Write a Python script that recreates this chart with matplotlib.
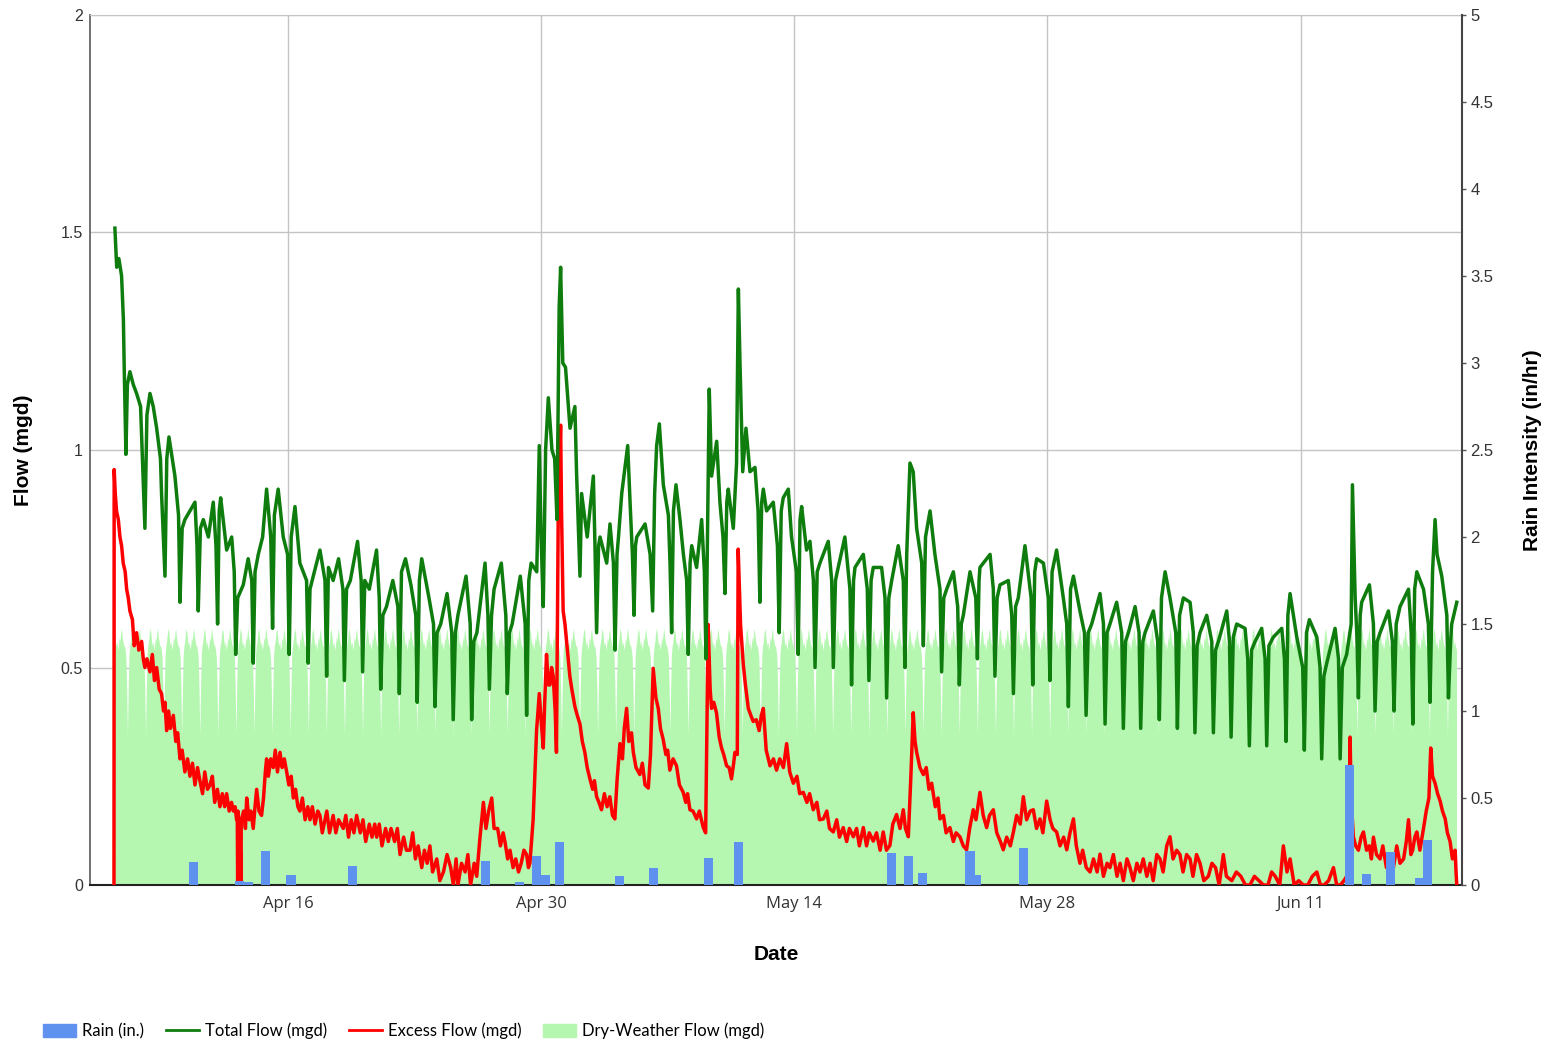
import numpy as np
import pandas as pd
import matplotlib
matplotlib.use("Agg")
import matplotlib.pyplot as plt
import matplotlib.dates as mdates
from matplotlib.patches import Patch
from matplotlib.lines import Line2D
from matplotlib.ticker import FixedLocator, FuncFormatter

#
# Data: time is given as days after Apr 5 00:00
#
start = pd.Timestamp("2014-04-05")

# Total flow (mgd), (day, value) pairs
total_day = [1.43, 1.53, 1.65, 1.80, 1.90, 1.95, 2.04,
             2.12, 2.26, 2.45, 2.63, 2.85, 2.91, 3.02, 3.09,
             3.20, 3.37, 3.55, 3.74, 3.95, 4.01, 4.20,
             4.30, 4.42, 4.75, 4.95, 5.03,
             5.15, 5.30, 5.58, 5.86, 5.97, 6.04,
             6.16, 6.32, 6.60, 6.87, 7.02, 7.11,
             7.20, 7.28, 7.61, 7.89, 8.03, 8.11,
             8.22, 8.53, 8.80, 9.00, 9.08,
             9.18, 9.36, 9.60, 9.82, 10.05, 10.15,
             10.25, 10.46, 10.74, 10.98, 11.07,
             11.18, 11.39, 11.66, 12.03, 12.12,
             12.22, 12.40, 12.77, 13.05, 13.14,
             13.24, 13.50, 13.80, 14.04, 14.12,
             14.24, 14.45, 14.85, 15.05, 15.13,
             15.25, 15.50, 15.90, 16.05, 16.13,
             16.25, 16.45, 16.80, 17.08, 17.16,
             17.28, 17.50, 17.80, 18.07, 18.15,
             18.27, 18.40, 18.80, 19.05, 19.13,
             19.25, 19.45, 19.80, 20.06, 20.14,
             20.26, 20.40, 20.85, 21.08, 21.16,
             21.28, 21.45, 21.90, 22.06, 22.14,
             22.26, 22.40, 22.80, 23.05, 23.13,
             23.25, 23.40, 23.85, 24.12, 24.20,
             24.32, 24.45, 24.76, 24.90, 25.00, 25.12,
             25.25, 25.40, 25.60, 25.75, 25.88, 26.00, 26.08,
             26.20, 26.35, 26.60, 26.87, 26.96, 27.15,
             27.24, 27.55, 27.89, 27.98, 28.07,
             28.18, 28.26, 28.63, 28.81, 29.00, 29.09,
             29.20, 29.28, 29.46, 29.79, 29.92, 30.05, 30.14,
             30.22, 30.29, 30.75, 31.03, 31.17,
             31.28, 31.39, 31.54, 31.76, 32.04, 32.13, 32.22,
             32.32, 32.46, 32.68, 32.87, 33.05, 33.14,
             33.24, 33.33, 33.60, 33.88, 34.03, 34.12,
             34.30, 34.43, 34.71, 34.89, 35.06, 35.17,
             35.27, 35.35, 35.63, 35.81, 35.91, 36.00, 36.15, 36.33, 36.55, 36.83, 37.00, 37.10,
             37.20, 37.29, 37.47, 37.84, 38.07, 38.17,
             38.28, 38.39, 38.67, 38.85, 39.12, 39.22,
             39.32, 39.41, 39.68, 39.87, 40.06, 40.15,
             40.27, 40.42, 40.88, 41.07, 41.16,
             41.28, 41.38, 41.80, 42.08, 42.17,
             42.28, 42.36, 42.82, 43.04, 43.13,
             43.25, 43.37, 43.83, 44.02, 44.11,
             44.23, 44.39, 44.75, 45.03, 45.12,
             45.22, 45.40, 45.58, 45.77, 46.05, 46.14,
             46.26, 46.51, 46.78, 47.06, 47.15,
             47.27, 47.43, 47.80, 48.04, 48.13,
             48.24, 48.35, 48.72, 49.04, 49.13,
             49.22, 49.27, 49.83, 50.01, 50.10,
             50.22, 50.38, 50.84, 51.03, 51.12,
             51.24, 51.39, 51.76, 52.10, 52.19,
             52.30, 52.41, 52.78, 53.05, 53.14,
             53.26, 53.51, 53.88, 54.07, 54.16,
             54.28, 54.44, 54.80, 55.05, 55.14,
             55.26, 55.45, 55.91, 56.10, 56.19,
             56.30, 56.46, 56.83, 57.11, 57.20,
             57.32, 57.48, 57.85, 58.07, 58.16,
             58.28, 58.40, 58.86, 59.10, 59.19,
             59.31, 59.51, 59.78, 60.10, 60.19,
             60.31, 60.52, 60.89, 61.07, 61.16,
             61.28, 61.44, 61.81, 62.09, 62.18,
             62.30, 62.46, 62.92, 63.07, 63.16,
             63.28, 63.47, 63.93, 64.08, 64.17,
             64.29, 64.49, 64.85, 65.04, 65.13,
             65.25, 65.50, 65.96, 66.11, 66.20,
             66.30, 66.42, 66.79, 67.12, 67.21,
             67.33, 67.49, 67.90, 68.08, 68.17,
             68.29, 68.45, 68.91, 69.10, 69.19,
             69.31, 69.55, 69.80, 69.87, 70.02, 70.11, 70.20,
             70.30, 70.38, 70.81, 71.03, 71.12,
             71.24, 71.40, 71.86, 72.08, 72.17,
             72.29, 72.50, 72.97, 73.12, 73.21,
             73.31, 73.43, 73.80, 74.07, 74.16,
             74.30, 74.44, 74.55, 74.81, 75.09, 75.18,
             75.30, 75.36, 75.64]
total_mgd = [1.51, 1.42, 1.44, 1.40, 1.30, 1.18, 0.99,
             1.15, 1.18, 1.15, 1.13, 1.10, 1.03, 0.90, 0.82,
             1.08, 1.13, 1.10, 1.05, 0.98, 0.90, 0.71,
             0.98, 1.03, 0.94, 0.85, 0.65,
             0.82, 0.84, 0.86, 0.88, 0.78, 0.63,
             0.82, 0.84, 0.80, 0.88, 0.78, 0.60,
             0.86, 0.89, 0.77, 0.80, 0.72, 0.53,
             0.66, 0.69, 0.75, 0.70, 0.51,
             0.72, 0.76, 0.80, 0.91, 0.80, 0.59,
             0.85, 0.91, 0.80, 0.76, 0.53,
             0.80, 0.87, 0.74, 0.70, 0.51,
             0.68, 0.71, 0.77, 0.70, 0.48,
             0.73, 0.70, 0.75, 0.68, 0.47,
             0.68, 0.70, 0.79, 0.70, 0.49,
             0.70, 0.68, 0.77, 0.66, 0.45,
             0.62, 0.64, 0.70, 0.64, 0.44,
             0.72, 0.75, 0.69, 0.62, 0.42,
             0.70, 0.75, 0.66, 0.60, 0.41,
             0.58, 0.60, 0.67, 0.58, 0.38,
             0.58, 0.62, 0.71, 0.60, 0.38,
             0.56, 0.58, 0.74, 0.62, 0.45,
             0.62, 0.68, 0.74, 0.62, 0.44,
             0.58, 0.60, 0.71, 0.60, 0.39,
             0.70, 0.74, 0.72, 1.01, 0.80, 0.64,
             1.00, 1.12, 1.00, 0.98, 0.84, 1.33, 1.42,
             1.20, 1.19, 1.05, 1.10, 0.95, 0.71,
             0.90, 0.80, 0.94, 0.78, 0.58,
             0.78, 0.80, 0.74, 0.83, 0.74, 0.54,
             0.76, 0.80, 0.90, 1.01, 0.88, 0.76, 0.62,
             0.78, 0.80, 0.83, 0.76, 0.63,
             0.90, 1.01, 1.06, 0.92, 0.85, 0.74, 0.58,
             0.86, 0.92, 0.84, 0.76, 0.70, 0.53,
             0.74, 0.78, 0.73, 0.84, 0.72, 0.52,
             1.14, 0.94, 1.02, 0.88, 0.80, 0.67,
             0.88, 0.91, 0.82, 0.97, 1.37, 1.20, 0.95, 1.05, 0.95, 0.96, 0.86, 0.65,
             0.88, 0.91, 0.86, 0.88, 0.78, 0.58,
             0.86, 0.89, 0.91, 0.80, 0.72, 0.53,
             0.84, 0.87, 0.77, 0.79, 0.70, 0.50,
             0.72, 0.74, 0.79, 0.70, 0.50,
             0.70, 0.72, 0.80, 0.68, 0.46,
             0.70, 0.73, 0.76, 0.68, 0.47,
             0.70, 0.73, 0.73, 0.66, 0.43,
             0.66, 0.70, 0.78, 0.70, 0.50,
             0.76, 0.97, 0.95, 0.82, 0.74, 0.55,
             0.80, 0.86, 0.76, 0.68, 0.49,
             0.66, 0.68, 0.72, 0.64, 0.46,
             0.60, 0.62, 0.72, 0.66, 0.52,
             0.70, 0.73, 0.76, 0.68, 0.48,
             0.66, 0.69, 0.70, 0.62, 0.44,
             0.64, 0.66, 0.78, 0.66, 0.46,
             0.72, 0.75, 0.74, 0.66, 0.47,
             0.72, 0.77, 0.66, 0.60, 0.41,
             0.68, 0.71, 0.63, 0.58, 0.39,
             0.58, 0.60, 0.67, 0.60, 0.37,
             0.58, 0.60, 0.65, 0.58, 0.36,
             0.56, 0.58, 0.64, 0.58, 0.36,
             0.56, 0.58, 0.63, 0.56, 0.38,
             0.66, 0.72, 0.66, 0.58, 0.36,
             0.62, 0.66, 0.65, 0.58, 0.35,
             0.55, 0.58, 0.62, 0.56, 0.35,
             0.54, 0.56, 0.63, 0.56, 0.34,
             0.57, 0.60, 0.59, 0.52, 0.32,
             0.54, 0.56, 0.59, 0.52, 0.32,
             0.55, 0.57, 0.59, 0.52, 0.33,
             0.62, 0.67, 0.57, 0.50, 0.31,
             0.58, 0.61, 0.57, 0.50, 0.29,
             0.48, 0.51, 0.59, 0.52, 0.29,
             0.50, 0.53, 0.60, 0.92, 0.66, 0.58, 0.43,
             0.62, 0.65, 0.69, 0.60, 0.40,
             0.56, 0.58, 0.63, 0.56, 0.40,
             0.60, 0.64, 0.68, 0.58, 0.37,
             0.68, 0.72, 0.68, 0.60, 0.42,
             0.72, 0.84, 0.76, 0.71, 0.62, 0.43,
             0.56, 0.60, 0.65]

# Excess flow (mgd), (day, value) pairs
excess_day = [1.38, 1.39, 1.45, 1.52, 1.62, 1.71, 1.80, 1.89, 2.00, 2.08, 2.17, 2.26, 2.40, 2.50, 2.63, 2.75,
              2.91, 3.00, 3.09, 3.20, 3.37, 3.50, 3.62, 3.74, 3.88, 4.01, 4.12, 4.20, 4.29, 4.40, 4.50, 4.66,
              4.80, 4.90, 5.03, 5.15, 5.30, 5.45, 5.58, 5.72, 5.86, 6.00, 6.13, 6.28, 6.40, 6.55, 6.69, 6.82,
              6.95, 7.10, 7.24, 7.37, 7.50, 7.61, 7.75, 7.88, 7.98, 8.08, 8.16, 8.20, 8.22, 8.24, 8.30, 8.36,
              8.40, 8.42, 8.55, 8.65, 8.72, 8.85, 8.95, 9.08, 9.18, 9.27, 9.40, 9.54, 9.65, 9.75, 9.82, 9.92,
              10.05, 10.19, 10.30, 10.42, 10.56, 10.68, 10.80, 10.93, 11.05, 11.18, 11.30, 11.42, 11.55, 11.66,
              11.80, 11.95, 12.10, 12.22, 12.35, 12.50, 12.65, 12.77, 12.90, 13.00, 13.15, 13.30, 13.50, 13.65,
              13.80, 14.06, 14.20, 14.35, 14.50, 14.65, 14.80, 15.00, 15.15, 15.30, 15.50, 15.65, 15.80, 15.91,
              16.05, 16.20, 16.40, 16.55, 16.70, 16.90, 17.05, 17.20, 17.40, 17.55, 17.75, 17.90, 18.05, 18.20,
              18.40, 18.55, 18.70, 18.85, 19.00, 19.23, 19.40, 19.60, 19.80, 20.00, 20.15, 20.30, 20.40, 20.60,
              20.80, 20.95, 21.10, 21.30, 21.44, 21.60, 21.81, 21.95, 22.10, 22.27, 22.40, 22.60, 22.75, 22.90,
              23.00, 23.15, 23.28, 23.45, 23.60, 23.75, 23.90, 24.05, 24.20, 24.30, 24.38, 24.56, 24.65, 24.75,
              24.90, 25.00, 25.12, 25.20, 25.30, 25.40, 25.49, 25.58, 25.67, 25.78, 25.85, 25.95, 26.08, 26.13,
              26.22, 26.32, 26.41, 26.50, 26.59, 26.70, 26.87, 27.00, 27.15, 27.28, 27.42, 27.55, 27.70, 27.85,
              27.95, 28.07, 28.20, 28.34, 28.50, 28.65, 28.80, 28.95, 29.08, 29.20, 29.36, 29.50, 29.60, 29.73,
              29.85, 30.00, 30.10, 30.25, 30.46, 30.60, 30.75, 30.93, 31.05, 31.20, 31.35, 31.48, 31.60, 31.75,
              31.90, 32.00, 32.12, 32.30, 32.49, 32.65, 32.86, 33.00, 33.10, 33.23, 33.40, 33.60, 33.75, 33.97,
              34.10, 34.24, 34.35, 34.43, 34.55, 34.70, 34.85, 34.98, 35.10, 35.26, 35.40, 35.53, 35.65, 35.72,
              35.85, 35.90, 36.03, 36.18, 36.30, 36.46, 36.60, 36.73, 36.90, 37.06, 37.18, 37.29, 37.45, 37.66,
              37.85, 38.02, 38.20, 38.40, 38.58, 38.75, 38.95, 39.15, 39.30, 39.50, 39.70, 39.85, 40.05, 40.25,
              40.40, 40.61, 40.80, 40.95, 41.16, 41.35, 41.50, 41.71, 41.90, 42.05, 42.27, 42.45, 42.60, 42.82,
              43.00, 43.15, 43.37, 43.55, 43.75, 43.92, 44.10, 44.29, 44.45, 44.66, 44.85, 45.03, 45.15, 45.31,
              45.45, 45.58, 45.68, 45.77, 45.95, 46.14, 46.30, 46.45, 46.60, 46.80, 46.95, 47.06, 47.25, 47.40,
              47.61, 47.80, 47.95, 48.16, 48.35, 48.53, 48.70, 48.90, 49.05, 49.27, 49.45, 49.64, 49.80, 50.01,
              50.20, 50.40, 50.56, 50.75, 50.95, 51.12, 51.30, 51.50, 51.67, 51.85, 52.05, 52.22, 52.40, 52.59,
              52.75, 52.96, 53.15, 53.30, 53.51, 53.70, 53.90, 54.07, 54.25, 54.44, 54.60, 54.80, 54.95, 55.15,
              55.36, 55.55, 55.75, 55.91, 56.10, 56.30, 56.46, 56.65, 56.85, 57.02, 57.20, 57.40, 57.57, 57.75,
              57.95, 58.12, 58.30, 58.50, 58.68, 58.85, 59.05, 59.23, 59.40, 59.60, 59.78, 59.95, 60.15, 60.33,
              60.50, 60.70, 60.89, 61.05, 61.25, 61.44, 61.65, 61.90, 62.10, 62.30, 62.50, 62.73, 62.90, 63.20,
              63.45, 63.70, 63.95, 64.20, 64.45, 64.70, 64.95, 65.20, 65.40, 65.60, 65.85, 66.05, 66.25, 66.42,
              66.65, 66.90, 67.15, 67.40, 67.65, 67.90, 68.10, 68.30, 68.55, 68.82, 69.00, 69.20, 69.40, 69.55,
              69.70, 69.74, 69.80, 69.92, 70.05, 70.20, 70.35, 70.48, 70.65, 70.80, 70.92, 71.03, 71.20, 71.40,
              71.55, 71.75, 71.95, 72.10, 72.32, 72.50, 72.70, 72.85, 72.97, 73.10, 73.20, 73.32, 73.43, 73.60,
              73.80, 73.95, 74.10, 74.20, 74.30, 74.44, 74.58, 74.72, 74.85, 75.00, 75.12, 75.27, 75.40, 75.55,
              75.60, 75.64]
excess_mgd = [0.0, 0.955, 0.90, 0.86, 0.84, 0.80, 0.78, 0.74, 0.72, 0.68, 0.66, 0.63, 0.61, 0.55, 0.58, 0.54,
              0.56, 0.52, 0.50, 0.52, 0.49, 0.53, 0.47, 0.50, 0.45, 0.44, 0.40, 0.42, 0.355, 0.40, 0.36, 0.39,
              0.33, 0.35, 0.29, 0.31, 0.26, 0.29, 0.25, 0.28, 0.23, 0.27, 0.24, 0.21, 0.26, 0.22, 0.23, 0.25,
              0.19, 0.22, 0.18, 0.21, 0.18, 0.21, 0.17, 0.19, 0.17, 0.18, 0.15, 0.15, 0.0, 0.17, 0.12, 0.10,
              0.0, 0.15, 0.17, 0.13, 0.20, 0.15, 0.17, 0.13, 0.18, 0.22, 0.17, 0.16, 0.20, 0.26, 0.29, 0.25,
              0.29, 0.27, 0.31, 0.26, 0.305, 0.27, 0.29, 0.26, 0.23, 0.25, 0.20, 0.22, 0.18, 0.17,
              0.20, 0.15, 0.18, 0.15, 0.18, 0.14, 0.17, 0.16, 0.12, 0.14, 0.17, 0.12, 0.16, 0.12,
              0.15, 0.13, 0.16, 0.11, 0.15, 0.12, 0.16, 0.12, 0.15, 0.10, 0.14, 0.11, 0.14, 0.11,
              0.14, 0.09, 0.13, 0.10, 0.13, 0.10, 0.13, 0.07, 0.11, 0.08, 0.08, 0.12, 0.06, 0.09,
              0.04, 0.08, 0.05, 0.09, 0.03, 0.06, 0.01, 0.03, 0.07, 0.04, 0.0, 0.06, 0.0, 0.05,
              0.03, 0.07, 0.0, 0.05, 0.02, 0.10, 0.19, 0.13, 0.17, 0.20, 0.13, 0.13, 0.09, 0.12,
              0.10, 0.06, 0.08, 0.04, 0.06, 0.03, 0.05, 0.08, 0.07, 0.04, 0.05, 0.15, 0.25, 0.355,
              0.44, 0.38, 0.315, 0.42, 0.53, 0.46, 0.46, 0.50, 0.48, 0.40, 0.305, 0.86, 1.057, 0.86,
              0.63, 0.60, 0.56, 0.52, 0.48, 0.45, 0.41, 0.39, 0.37, 0.33, 0.305, 0.27, 0.244, 0.22,
              0.24, 0.203, 0.19, 0.173, 0.21, 0.18, 0.203, 0.16, 0.152, 0.24, 0.325, 0.29, 0.36, 0.406,
              0.33, 0.35, 0.305, 0.27, 0.254, 0.28, 0.23, 0.223, 0.30, 0.498, 0.43, 0.406, 0.36, 0.335,
              0.30, 0.31, 0.264, 0.29, 0.274, 0.23, 0.213, 0.19, 0.21, 0.173, 0.17, 0.152, 0.17, 0.132,
              0.12, 0.599, 0.45, 0.406, 0.42, 0.396, 0.34, 0.315, 0.30, 0.274, 0.27, 0.244, 0.28, 0.305,
              0.30, 0.772, 0.599, 0.508, 0.46, 0.406, 0.39, 0.376, 0.38, 0.355, 0.39, 0.406, 0.31, 0.274,
              0.29, 0.264, 0.29, 0.27, 0.325, 0.26, 0.234, 0.25, 0.21, 0.213, 0.19, 0.21, 0.173, 0.19,
              0.15, 0.152, 0.17, 0.13, 0.122, 0.15, 0.11, 0.132, 0.10, 0.13, 0.111, 0.13, 0.09, 0.132,
              0.09, 0.12, 0.101, 0.12, 0.08, 0.122, 0.08, 0.091, 0.14, 0.162, 0.13, 0.173, 0.13, 0.111,
              0.25, 0.396, 0.33, 0.305, 0.27, 0.254, 0.27, 0.22, 0.234, 0.18, 0.20, 0.152, 0.16, 0.12,
              0.132, 0.10, 0.12, 0.111, 0.09, 0.081, 0.13, 0.173, 0.15, 0.213, 0.16, 0.132, 0.16, 0.173,
              0.12, 0.10, 0.081, 0.11, 0.09, 0.122, 0.16, 0.14, 0.203, 0.15, 0.17, 0.173, 0.13, 0.152,
              0.12, 0.193, 0.15, 0.13, 0.122, 0.09, 0.11, 0.081, 0.12, 0.152, 0.09, 0.05, 0.08, 0.04,
              0.03, 0.06, 0.03, 0.071, 0.02, 0.05, 0.04, 0.07, 0.02, 0.05, 0.01, 0.06, 0.04, 0.01,
              0.05, 0.03, 0.06, 0.02, 0.05, 0.01, 0.07, 0.06, 0.03, 0.09, 0.111, 0.06, 0.08, 0.07,
              0.03, 0.07, 0.06, 0.02, 0.07, 0.05, 0.01, 0.02, 0.05, 0.04, 0.0, 0.07, 0.02, 0.01,
              0.03, 0.02, 0.0, 0.0, 0.02, 0.01, 0.0, 0.0, 0.03, 0.02, 0.0, 0.09, 0.03, 0.06,
              0.0, 0.01, 0.0, 0.0, 0.02, 0.03, 0.0, 0.0, 0.01, 0.04, 0.0, 0.0, 0.01, 0.02,
              0.10, 0.34, 0.20, 0.111, 0.09, 0.08, 0.11, 0.122, 0.08, 0.09, 0.06, 0.11, 0.07, 0.06,
              0.09, 0.04, 0.07, 0.03, 0.09, 0.05, 0.06, 0.10, 0.15, 0.07, 0.08, 0.11, 0.122, 0.08,
              0.13, 0.17, 0.20, 0.315, 0.25, 0.234, 0.21, 0.193, 0.17, 0.152, 0.12, 0.10, 0.06, 0.08,
              0.03, 0.0]

# typical dry-weather day, hourly (hour 0 = midnight)
dwf_hourly = [0.54, 0.52, 0.45, 0.345, 0.45, 0.53, 0.55, 0.56, 0.58, 0.59, 0.58, 0.56,
              0.55, 0.56, 0.54, 0.55, 0.57, 0.56, 0.58, 0.59, 0.57, 0.56, 0.55, 0.55]
dwf_first_day = 1
dwf_last_day = 76
dwf_start = 1.38
dwf_end = 75.64

rain_day = [5.77, 8.32, 8.84, 9.74, 11.17, 14.58, 21.91, 23.80, 24.72, 25.27, 26.04, 29.36, 31.22,
            34.24, 35.92, 44.38, 45.34, 46.07, 48.72, 49.10, 51.68, 69.70, 70.65, 72.00, 73.56, 74.03]
rain_in = [0.13, 0.025, 0.015, 0.195, 0.06, 0.11, 0.14, 0.02, 0.165, 0.06, 0.25, 0.05, 0.097,
           0.157, 0.25, 0.184, 0.167, 0.068, 0.196, 0.055, 0.21, 0.69, 0.064, 0.19, 0.04, 0.26]

tick_dates = ["2014-04-16", "2014-04-30", "2014-05-14", "2014-05-28", "2014-06-11"]

#
# Build time stamps
#
def to_time(days):
    return start + pd.to_timedelta(np.asarray(days), unit="D")

t_total = to_time(total_day)
t_excess = to_time(excess_day)
t_rain = to_time(rain_day)

hours = np.arange(dwf_first_day * 24, dwf_last_day * 24 + 1)
dwf_days = hours / 24.0
dwf_vals = np.tile(dwf_hourly, dwf_last_day + 1)[hours]
keep = (dwf_days >= dwf_start) & (dwf_days <= dwf_end)
t_dwf = to_time(dwf_days[keep])
dwf_vals = dwf_vals[keep]

#
# Plot
#
c_total = "#0e7d0e"
c_excess = "#ff0000"
c_dwf = "#b5f7b1"
c_rain = "#5f92ee"
c_grid = "#c4c4c4"
c_text = "#333333"

fig = plt.figure(figsize=(15.56, 10.46), dpi=100)
ax = fig.add_axes([0.0578, 0.1539, 0.8818, 0.8318])
ax.fill_between(t_dwf, 0, dwf_vals, color=c_dwf, lw=0, zorder=1)
ax.plot(t_excess, excess_mgd, color=c_excess, lw=2.5, zorder=3)
ax.plot(t_total, total_mgd, color=c_total, lw=2.5, zorder=4)

ax.set_ylim(0, 2)
ax.set_xlim(to_time(0.05), to_time(75.93))
ax.yaxis.set_major_locator(FixedLocator([0, 0.5, 1, 1.5, 2]))
ax.yaxis.set_major_formatter(FuncFormatter(lambda v, p: "%g" % v))
ax.xaxis.set_major_locator(FixedLocator(mdates.date2num(pd.to_datetime(tick_dates))))
ax.xaxis.set_major_formatter(mdates.DateFormatter("%b %d"))
ax.grid(True, color=c_grid, lw=1)
ax.set_axisbelow(True)
ax.tick_params(axis="y", length=0, pad=5, labelsize=11.5, labelcolor=c_text)
ax.tick_params(axis="x", length=0, pad=8, labelsize=12, labelcolor=c_text)
for lab in ax.get_yticklabels():
    lab.set_family("Liberation Sans")
for lab in ax.get_xticklabels():
    lab.set_family("Open Sans")
ax.spines["top"].set_color(c_grid)
ax.spines["left"].set_color("#666666")
ax.spines["left"].set_linewidth(1.3)
ax.spines["bottom"].set_color("#222222")
ax.spines["bottom"].set_linewidth(1.5)
ax.spines["right"].set_visible(False)

ax.set_ylabel("Flow (mgd)", family="Liberation Sans", fontweight="bold", fontsize=15, labelpad=20)
ax.set_xlabel("Date", family="Liberation Sans", fontweight="bold", fontsize=15, labelpad=24)

ax2 = ax.twinx()
ax2.bar(t_rain, rain_in, width=0.5, color=c_rain, lw=0, zorder=5)
ax2.set_ylim(0, 5)
ax2.yaxis.set_major_locator(FixedLocator(np.arange(0, 5.01, 0.5)))
ax2.yaxis.set_major_formatter(FuncFormatter(lambda v, p: "%g" % v))
ax2.tick_params(axis="y", length=3, width=1, color="#555555", pad=3, labelsize=12, labelcolor=c_text)
for lab in ax2.get_yticklabels():
    lab.set_family("Liberation Sans")
for s in ["left", "top", "bottom"]:
    ax2.spines[s].set_visible(False)
ax2.spines["right"].set_color("#444444")
ax2.spines["right"].set_linewidth(1.5)
ax2.set_ylabel("Rain Intensity (in/hr)", family="Liberation Sans", fontweight="bold", fontsize=15,
               labelpad=21)

handles = [Patch(color=c_rain), Line2D([], [], color=c_total, lw=2),
           Line2D([], [], color=c_excess, lw=2), Patch(color=c_dwf)]
labels = ["Rain (in.)", "Total Flow (mgd)", "Excess Flow (mgd)", "Dry-Weather Flow (mgd)"]
fig.legend(handles, labels, loc="center left", bbox_to_anchor=(0.02, 0.0143), ncol=4, frameon=False,
           prop={"family": "Lato", "size": 12}, handlelength=2.0, handleheight=0.9, columnspacing=1.3,
           handletextpad=0.35, borderpad=0.2)

fig.savefig("out.png", dpi=100)
